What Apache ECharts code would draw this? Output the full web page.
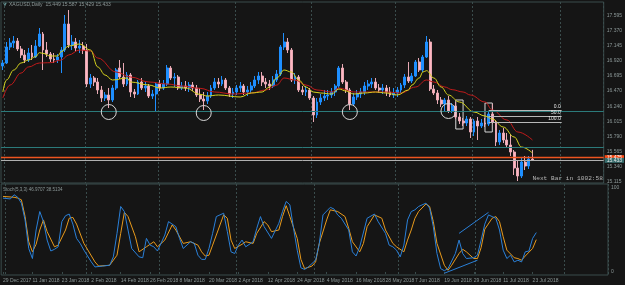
<!DOCTYPE html>
<html>
<head>
<meta charset="utf-8">
<script src="https://cdn.jsdelivr.net/npm/echarts@6/dist/echarts.min.js"></script>
<style>
  html, body { margin: 0; padding: 0; background: #151515; }
  #chart { width: 625px; height: 285px; }
</style>
</head>
<body>
<div id="chart"></div>
<script>
// x-axis date labels, one every 8 bars
const xLabels = ['29 Dec 2017', '11 Jan 2018', '23 Jan 2018', '2 Feb 2018', '14 Feb 2018', '26 Feb 2018',
  '8 Mar 2018', '20 Mar 2018', '2 Apr 2018', '12 Apr 2018', '24 Apr 2018', '4 May 2018', '16 May 2018',
  '28 May 2018', '7 Jun 2018', '19 Jun 2018', '29 Jun 2018', '11 Jul 2018', '23 Jul 2018']

// daily XAGUSD bars
const open = [
  16.845, 16.89, 17.13, 17.19, 17.22, 17.1, 17.01, 16.935, 17.04, 16.98,
  17.145, 17.325, 17.085, 17.025, 16.95, 16.935, 16.98, 17.085, 17.475, 17.16,
  17.205, 17.115, 17.145, 17.085, 16.575, 16.665, 16.605, 16.485, 16.365, 16.41,
  16.335, 16.515, 16.815, 16.68, 16.575, 16.71, 16.455, 16.425, 16.605, 16.515,
  16.545, 16.395, 16.425, 16.575, 16.515, 16.575, 16.815, 16.665, 16.68, 16.515,
  16.545, 16.515, 16.56, 16.515, 16.41, 16.35, 16.32, 16.395, 16.515, 16.605,
  16.575, 16.635, 16.515, 16.425, 16.455, 16.515, 16.545, 16.455, 16.485, 16.545,
  16.635, 16.695, 16.605, 16.575, 16.545, 16.635, 16.725, 17.13, 17.205, 17.085,
  16.635, 16.68, 16.485, 16.455, 16.485, 16.365, 16.11, 16.305, 16.365, 16.395,
  16.41, 16.455, 16.545, 16.815, 16.605, 16.485, 16.275, 16.38, 16.425, 16.455,
  16.545, 16.575, 16.605, 16.515, 16.485, 16.515, 16.455, 16.41, 16.44, 16.485,
  16.56, 16.68, 16.62, 16.695, 16.905, 16.785, 16.98, 17.205, 16.5, 16.44,
  16.335, 16.275, 16.335, 16.17, 16.245, 16.08, 16.02, 15.99, 16.05, 15.855,
  16.02, 15.945, 15.99, 15.975, 16.125, 16.005, 15.705, 15.84, 15.735, 15.66,
  15.555, 15.315, 15.195, 15.405, 15.345, 15.449
]
const high = [
  16.935, 17.205, 17.265, 17.295, 17.265, 17.145, 17.085, 17.115, 17.16, 17.235,
  17.415, 17.355, 17.205, 17.055, 17.04, 17.025, 17.13, 17.61, 17.685, 17.31,
  17.265, 17.235, 17.205, 17.175, 16.725, 16.695, 16.665, 16.545, 16.455, 16.515,
  16.56, 16.815, 16.935, 16.89, 16.755, 16.74, 16.5, 16.635, 16.665, 16.605,
  16.575, 16.485, 16.605, 16.635, 16.635, 16.86, 16.845, 16.74, 16.71, 16.605,
  16.62, 16.605, 16.605, 16.56, 16.515, 16.455, 16.455, 16.56, 16.665, 16.665,
  16.695, 16.665, 16.545, 16.515, 16.56, 16.605, 16.575, 16.545, 16.605, 16.695,
  16.755, 16.755, 16.665, 16.635, 16.695, 16.785, 17.16, 17.34, 17.265, 17.115,
  16.74, 16.71, 16.545, 16.545, 16.515, 16.395, 16.365, 16.425, 16.485, 16.485,
  16.515, 16.575, 16.845, 16.875, 16.635, 16.515, 16.44, 16.485, 16.515, 16.605,
  16.635, 16.665, 16.665, 16.575, 16.575, 16.56, 16.53, 16.515, 16.53, 16.59,
  16.725, 16.905, 16.74, 16.935, 16.965, 17.01, 17.295, 17.25, 16.56, 16.485,
  16.38, 16.365, 16.395, 16.29, 16.305, 16.14, 16.065, 16.095, 16.08, 16.05,
  16.08, 16.05, 16.065, 16.155, 16.275, 16.035, 15.885, 15.915, 15.84, 15.81,
  15.585, 15.435, 15.465, 15.495, 15.495, 15.587
]
const low = [
  16.785, 16.875, 17.085, 17.115, 17.07, 16.965, 16.89, 16.905, 16.935, 16.965,
  17.13, 16.785, 16.98, 16.905, 16.89, 16.89, 16.74, 17.055, 17.115, 17.085,
  17.055, 17.04, 17.025, 16.53, 16.515, 16.545, 16.425, 16.305, 16.32, 16.215,
  16.305, 16.485, 16.65, 16.53, 16.545, 16.38, 16.365, 16.41, 16.485, 16.455,
  16.365, 16.35, 16.155, 16.47, 16.485, 16.545, 16.635, 16.53, 16.485, 16.485,
  16.47, 16.455, 16.47, 16.38, 16.305, 16.185, 16.275, 16.365, 16.485, 16.515,
  16.545, 16.485, 16.38, 16.365, 16.41, 16.455, 16.41, 16.395, 16.44, 16.515,
  16.575, 16.545, 16.515, 16.485, 16.515, 16.605, 16.695, 17.085, 17.04, 16.605,
  16.575, 16.455, 16.41, 16.395, 16.335, 16.005, 16.065, 16.26, 16.32, 16.335,
  16.365, 16.395, 16.515, 16.575, 16.44, 16.185, 16.245, 16.335, 16.365, 16.41,
  16.485, 16.515, 16.485, 16.44, 16.425, 16.395, 16.38, 16.365, 16.38, 16.44,
  16.515, 16.59, 16.59, 16.68, 16.755, 16.755, 16.965, 16.47, 16.41, 16.275,
  16.23, 16.155, 16.14, 16.14, 16.05, 15.975, 15.945, 15.945, 15.765, 15.795,
  15.735, 15.915, 15.93, 15.945, 15.975, 15.645, 15.66, 15.69, 15.615, 15.495,
  15.21, 15.12, 15.165, 15.285, 15.3, 15.429
]
const close = [
  16.89, 17.13, 17.19, 17.22, 17.1, 17.01, 16.935, 17.04, 16.98, 17.145,
  17.325, 17.085, 17.025, 16.95, 16.935, 16.98, 17.085, 17.475, 17.16, 17.205,
  17.115, 17.145, 17.085, 16.575, 16.665, 16.605, 16.485, 16.365, 16.41, 16.335,
  16.515, 16.785, 16.68, 16.575, 16.71, 16.455, 16.425, 16.605, 16.515, 16.545,
  16.395, 16.425, 16.575, 16.515, 16.575, 16.815, 16.665, 16.68, 16.515, 16.545,
  16.515, 16.56, 16.515, 16.41, 16.35, 16.32, 16.395, 16.515, 16.605, 16.575,
  16.635, 16.515, 16.425, 16.455, 16.515, 16.545, 16.455, 16.485, 16.545, 16.635,
  16.695, 16.605, 16.575, 16.545, 16.635, 16.725, 17.13, 17.205, 17.085, 16.635,
  16.68, 16.485, 16.455, 16.485, 16.365, 16.11, 16.305, 16.365, 16.395, 16.41,
  16.455, 16.545, 16.815, 16.605, 16.485, 16.275, 16.38, 16.425, 16.455, 16.545,
  16.575, 16.605, 16.515, 16.485, 16.515, 16.455, 16.41, 16.44, 16.485, 16.56,
  16.68, 16.62, 16.695, 16.905, 16.785, 16.98, 17.205, 16.5, 16.44, 16.335,
  16.275, 16.335, 16.17, 16.245, 16.08, 16.02, 15.99, 16.05, 15.855, 16.02,
  15.945, 15.99, 15.975, 16.125, 16.005, 15.705, 15.84, 15.735, 15.66, 15.555,
  15.315, 15.195, 15.405, 15.345, 15.45, 15.433
]

// moving averages, [bar, price] read at the visible bends
const maFast = [[0, 16.455], [1, 16.635], [3, 16.785], [5, 16.89], [7, 16.935], [9, 16.985], [10, 17.045],
  [11, 17.035], [13, 16.995], [15, 16.995], [16, 17.06], [18, 17.145], [21, 17.175], [24, 17.085], [26, 16.83],
  [28, 16.71], [30, 16.635], [34, 16.665], [35, 16.605], [40, 16.56], [43, 16.515], [46, 16.53], [50, 16.515],
  [54, 16.42], [56, 16.395], [59, 16.41], [65, 16.38], [68, 16.44], [71, 16.455], [73, 16.53], [75, 16.665],
  [77, 16.785], [79, 16.755], [81, 16.635], [83, 16.53], [85, 16.455], [87, 16.44], [90, 16.425], [92, 16.5],
  [94, 16.47], [96, 16.425], [99, 16.44], [102, 16.455], [105, 16.44], [108, 16.41], [111, 16.485],
  [112, 16.56], [114, 16.665], [115, 16.755], [116, 16.775], [118, 16.665], [120, 16.53], [122, 16.41],
  [125, 16.305], [129, 16.155], [132, 16.095], [134, 16.05], [137, 15.93], [140, 15.78], [142, 15.63], [145, 15.54]]
const maSlow = [[0, 16.365], [2, 16.56], [5, 16.74], [7, 16.83], [10, 16.89], [13, 16.895], [16, 16.935],
  [18, 17.01], [21, 17.085], [24, 17.07], [26, 16.965], [31, 16.755], [35, 16.68], [40, 16.605], [45, 16.575],
  [49, 16.545], [54, 16.51], [58, 16.455], [63, 16.425], [68, 16.44], [72, 16.485], [75, 16.56], [77, 16.665],
  [80, 16.635], [83, 16.56], [86, 16.485], [90, 16.455], [92, 16.515], [96, 16.455], [101, 16.455],
  [105, 16.455], [109, 16.44], [113, 16.53], [116, 16.635], [118, 16.605], [121, 16.53], [123, 16.49],
  [126, 16.455], [128, 16.41], [132, 16.305], [134, 16.185], [138, 16.035], [141, 15.855], [145, 15.735]]

// Stoch(5,3,3)
const stochMain = [[0, 88], [2, 87], [3, 92], [4, 89], [5, 82], [6, 62], [7, 28], [8, 16], [9, 50], [10, 72],
  [11, 60], [12, 38], [13, 25], [14, 27], [15, 30], [16, 60], [17, 67], [18, 69], [19, 57], [20, 40], [21, 34],
  [22, 26], [24, 12], [25, 6], [27, 7], [29, 8], [30, 18], [31, 46], [32, 78], [33, 72], [34, 50], [35, 28],
  [37, 18], [38, 17], [39, 40], [40, 32], [41, 30], [42, 25], [44, 44], [45, 60], [47, 54], [48, 40], [49, 28],
  [51, 36], [52, 34], [53, 20], [54, 15], [55, 15], [56, 28], [57, 46], [58, 66], [60, 70], [61, 48], [62, 24],
  [63, 22], [64, 32], [65, 38], [66, 30], [68, 36], [69, 52], [70, 66], [71, 54], [73, 40], [75, 58], [76, 72],
  [77, 84], [78, 80], [79, 52], [80, 26], [81, 5], [82, 3], [83, 6], [85, 14], [86, 34], [87, 68], [89, 77],
  [90, 75], [91, 68], [92, 64], [94, 50], [95, 24], [96, 19], [97, 30], [99, 64], [101, 69], [102, 60],
  [104, 46], [105, 32], [106, 30], [107, 26], [108, 18], [109, 32], [110, 62], [111, 72], [112, 74], [113, 78],
  [115, 82], [116, 76], [117, 54], [118, 22], [119, 4], [120, 1.5], [121, 4], [123, 22], [124, 38], [125, 22],
  [126, 16], [128, 17], [129, 20], [130, 38], [131, 57], [132, 68], [133, 66], [134, 64], [135, 50], [136, 26],
  [137, 16], [138, 20], [139, 12], [140, 14], [141, 12], [142, 24], [143, 25], [144, 40], [145, 46.97]]
const stochSignal = [[0, 90], [3, 89], [4, 88], [5, 86], [6, 66], [7, 36], [8, 24], [9, 33], [10, 50], [11, 62],
  [12, 48], [14, 30], [15, 32], [17, 50], [18, 64], [19, 65], [20, 57], [22, 34], [25, 12], [26, 7], [29, 8],
  [31, 20], [32, 46], [33, 71], [34, 66], [36, 42], [37, 24], [39, 30], [41, 36], [42, 30], [44, 38], [46, 56],
  [47, 50], [49, 34], [51, 36], [53, 32], [54, 24], [55, 19], [56, 20], [57, 32], [59, 56], [60, 68], [61, 64],
  [62, 38], [63, 28], [65, 33], [66, 36], [68, 34], [69, 46], [71, 60], [72, 56], [73, 48], [75, 50], [76, 66],
  [77, 79], [78, 66], [80, 40], [81, 15], [82, 4], [84, 7], [85, 12], [86, 34], [88, 62], [89, 74], [91, 72],
  [93, 66], [94, 52], [95, 36], [97, 24], [98, 34], [99, 54], [101, 68], [103, 64], [104, 50], [106, 34],
  [107, 30], [109, 24], [110, 38], [111, 50], [112, 64], [113, 72], [115, 81], [116, 78], [117, 60], [118, 34],
  [120, 8], [121, 2], [122, 8], [124, 22], [125, 27], [126, 24], [128, 16], [129, 16], [130, 29], [131, 51],
  [133, 64], [134, 66], [135, 60], [136, 42], [137, 26], [139, 17], [140, 16], [141, 14], [142, 19], [144, 28],
  [145, 38.51]]

const priceTicks = [15.115, 15.340, 15.565, 15.790, 16.015, 16.240, 16.470, 16.695, 16.920, 17.145, 17.370, 17.595]
const stochTicks = [0, 100]
const monthStarts = [1, 23, 43, 64, 85, 108, 129, 153]

// drawn objects
const tealLevels = [16.17, 15.62]
const orangeLevel = 15.475
const bidLevel = 15.433
const fibLevels = [['0.0', 16.177], ['50.0', 16.09], ['100.0', 16.005]]
const fibSpan = [133, 153]
const circles = [[28.5, 16.155], [55.4, 16.14], [95.4, 16.155], [121.5, 16.17]]
const boxes = [[124, 16.335, 126, 15.9], [132, 16.29, 134, 15.855]]
const stochTrend = [[[124, 46], [132, 71]], [[120, -1.5], [129, 14]]]

const slotCount = 165
const slots = Array.from({ length: slotCount }, (_, i) => i)
const candles = open.map((o, i) => [o, close[i], low[i], high[i]])

const gridCol = '#3a4c4c'
const textCol = '#8c9898'
const smallFont = 'Liberation Sans'

const chart = echarts.init(document.getElementById('chart'))

const labelSlot = (i) => i % 8 === 0 && i / 8 < xLabels.length

const xAxisBase = (gridIndex, showLabels) => ({
  type: 'category',
  gridIndex: gridIndex,
  data: slots,
  boundaryGap: true,
  axisLine: { show: false },
  axisTick: {
    show: showLabels,
    alignWithLabel: true,
    interval: labelSlot,
    length: 2,
    lineStyle: { color: gridCol }
  },
  axisLabel: {
    show: showLabels,
    // every slot gets a label (empty off the 8-bar marks) so none is dropped for overlap
    interval: 0,
    formatter: (v, i) => (labelSlot(i) ? xLabels[i / 8] : ''),
    align: 'left',
    margin: 3,
    fontSize: 5,
    fontFamily: smallFont,
    color: textCol
  },
  splitLine: {
    show: true,
    interval: (i) => monthStarts.indexOf(i) >= 0,
    lineStyle: { color: gridCol, type: [2, 2], width: 1 }
  }
})

const option = {
  backgroundColor: '#151515',
  animation: false,
  grid: [
    { left: 1, right: 17, top: 2, height: 181, show: true, borderColor: gridCol, borderWidth: 1, backgroundColor: 'transparent' },
    { left: 1, right: 17, top: 184, height: 91, show: true, borderColor: gridCol, borderWidth: 1, backgroundColor: 'transparent' }
  ],
  xAxis: [xAxisBase(0, false), xAxisBase(1, true)],
  yAxis: [
    {
      type: 'value', gridIndex: 0, position: 'right', min: 15.09, max: 17.805,
      splitLine: { show: false }, axisLine: { show: false }, axisTick: { show: false },
      axisLabel: {
        customValues: priceTicks, formatter: (v) => v.toFixed(3),
        margin: 3, fontSize: 5, fontFamily: smallFont, color: textCol
      }
    },
    {
      type: 'value', gridIndex: 1, position: 'right', min: -3.6, max: 104.8,
      splitLine: { show: false }, axisLine: { show: false }, axisTick: { show: false },
      axisLabel: {
        customValues: stochTicks, formatter: (v) => String(v),
        margin: 3, fontSize: 5, fontFamily: smallFont, color: textCol
      }
    }
  ],
  graphic: [
    { type: 'text', left: 3, top: 2, style: { text: '▼', fill: '#5f8a8a', font: '5px DejaVu Sans' } },
    { type: 'text', left: 9, top: 2, style: { text: 'XAGUSD,Daily  15.449 15.587 15.429 15.433', fill: textCol, font: '5px ' + smallFont } },
    { type: 'text', left: 3, top: 187, style: { text: 'Stoch(5,3,3) 46.9707 38.5134', fill: textCol, font: '4.5px ' + smallFont } },
    { type: 'text', right: 22, top: 175, style: { text: 'Next Bar in 1002:58', fill: '#b8b8b8', font: '6.2px Liberation Mono' } }
  ],
  series: [
    {
      type: 'candlestick',
      xAxisIndex: 0, yAxisIndex: 0,
      data: candles,
      barWidth: 2.4,
      itemStyle: {
        color: '#1e8fff', color0: '#ffb6c1',
        borderColor: '#1e8fff', borderColor0: '#e8a9b4', borderWidth: 1
      },
      markLine: {
        silent: true, symbol: ['none', 'none'], animation: false,
        label: { show: false },
        emphasis: { disabled: true },
        data: [
          ...tealLevels.map((v) => ({ yAxis: v, lineStyle: { color: '#2b7a7a', width: 1, type: 'solid', opacity: 1 } })),
          {
            yAxis: orangeLevel, lineStyle: { color: '#ee5520', width: 1.4, type: 'solid' },
            label: { show: true, position: 'end', distance: 1, formatter: orangeLevel.toFixed(3), fontSize: 5,
              fontFamily: smallFont, color: '#ffffff', backgroundColor: '#ff4a14', padding: [0, 2] }
          },
          {
            yAxis: bidLevel, lineStyle: { color: '#b0b0b0', width: 1, type: 'solid' },
            label: { show: true, position: 'end', distance: 1, formatter: bidLevel.toFixed(3), fontSize: 5,
              fontFamily: smallFont, color: '#e6e6e6', backgroundColor: '#356c6c', padding: [0, 2] }
          },
          ...fibLevels.map(([name, v]) => [
            {
              coord: [fibSpan[0], v], lineStyle: { color: '#b8b8b8', width: 1, type: 'solid' },
              label: { show: true, position: 'insideEndTop', distance: 1, formatter: name, fontSize: 5,
                color: '#e8e8e8', fontFamily: smallFont }
            },
            { coord: [fibSpan[1], v] }
          ])
        ]
      },
      markArea: {
        silent: true,
        itemStyle: { color: 'rgba(0,0,0,0)', borderColor: '#d6d6d6', borderWidth: 1 },
        data: boxes.map(([x1, y1, x2, y2]) => [{ coord: [x1, y1] }, { coord: [x2, y2] }])
      },
      markPoint: {
        silent: true,
        symbol: 'circle', symbolSize: 15,
        itemStyle: { color: 'rgba(0,0,0,0)', borderColor: '#d6d6d6', borderWidth: 1 },
        label: { show: false },
        data: circles.map((c) => ({ coord: c }))
      }
    },
    {
      type: 'line', xAxisIndex: 0, yAxisIndex: 0, data: maSlow,
      smooth: 0.4, smoothMonotone: 'x', showSymbol: false, silent: true,
      lineStyle: { color: '#c01a1a', width: 1 }
    },
    {
      type: 'line', xAxisIndex: 0, yAxisIndex: 0, data: maFast,
      smooth: 0.4, smoothMonotone: 'x', showSymbol: false, silent: true,
      lineStyle: { color: '#d6d41e', width: 1 }
    },
    {
      type: 'line', xAxisIndex: 1, yAxisIndex: 1, data: stochSignal,
      showSymbol: false, silent: true,
      lineStyle: { color: '#e89a1c', width: 1 }
    },
    {
      type: 'line', xAxisIndex: 1, yAxisIndex: 1, data: stochMain,
      showSymbol: false, silent: true,
      lineStyle: { color: '#2a80d8', width: 1 },
      markLine: {
        silent: true, symbol: ['none', 'none'], label: { show: false },
        lineStyle: { color: '#2a80d8', width: 1, type: 'solid' },
        data: stochTrend.map(([a, b]) => [{ coord: a }, { coord: b }])
      }
    }
  ]
}

chart.setOption(option)
</script>
</body>
</html>
